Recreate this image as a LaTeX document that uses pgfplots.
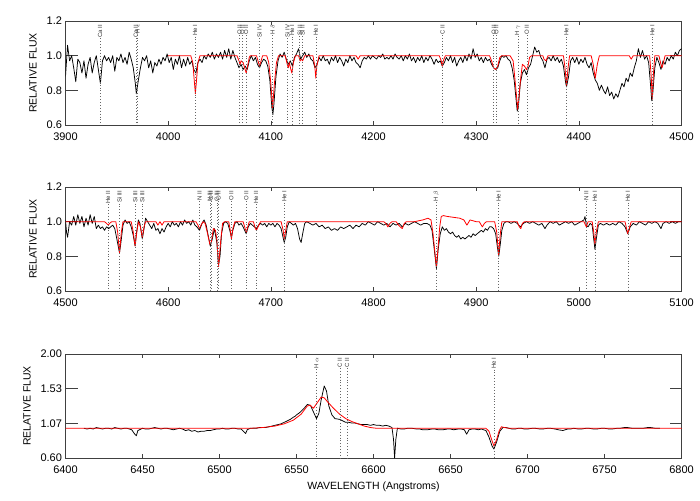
\documentclass[border=0pt]{standalone}
\usepackage{pgfplots}
\pgfplotsset{compat=1.18}
\usepackage{fontspec}
\setmainfont{Liberation Sans}
\definecolor{specred}{RGB}{255,0,0}
\newcommand{\lid}[4]{% lambda, ytop, ybottom, label
  \node[lidn] (lidnode) at (axis cs:#1,#2) {#4};
  \draw[lidl] (lidnode.west) -- (axis cs:#1,#3);}
\tikzset{
  lidn/.style={rotate=90, anchor=east, font=\fontsize{6}{7}\selectfont, inner sep=0.6pt, text=black!80},
  lidl/.style={line width=0.5pt, black!60, dash pattern=on 0.9pt off 2pt},
}
\begin{document}
\begin{tikzpicture}
\path[use as bounding box] (0pt,0pt) rectangle (700pt,500pt);
\pgfplotsset{
  spec/.style={scale only axis, width=616pt, height=104pt, anchor=south west,
    axis line style={line width=0.6pt, black!75},
    tick align=inside, major tick length=12pt, minor tick num=0,
    tick style={line width=0.6pt, black!75},
    xtick style={/pgfplots/major tick length=4pt},
    ticklabel style={font=\fontsize{11}{12}\selectfont},
    xticklabel style={yshift=-4pt},
    /pgf/number format/assume math mode=true,
    /pgf/number format/1000 sep={},
    ylabel={RELATIVE FLUX},
    ylabel style={font=\fontsize{10.5}{12}\selectfont, yshift=3pt},
    xlabel style={font=\fontsize{10.5}{12}\selectfont, yshift=-2pt},
  },
  blk/.style={black, line width=0.75pt, line join=round},
  rd/.style={specred, line width=0.8pt, line join=round},
}

% ---------------- Panel 1 ----------------
\begin{axis}[spec, at={(65.5pt,375pt)}, xmin=3900, xmax=4500, ymin=0.6, ymax=1.2,
  xtick={3900,4000,...,4500}, ytick={0.6,0.8,1.0,1.2},
  yticklabel style={/pgf/number format/fixed, /pgf/number format/precision=1, /pgf/number format/fixed zerofill}]
\addplot[blk] coordinates {
(3900,0.88)(3902,1.06)(3904,0.97)(3906,1.00)(3908,0.93)(3910,0.85)(3912,0.98)(3914,0.96)(3916,0.90)(3918,0.97)
(3920,0.87)(3922,0.95)(3924,0.99)(3926,0.90)(3928,0.96)(3930,1.00)(3932,0.92)(3934,0.84)(3936,0.97)(3938,1.00)
(3940,0.97)(3942,0.99)(3944,0.96)(3946,1.00)(3948,0.91)(3950,0.99)(3952,0.97)(3954,1.01)(3956,0.96)(3958,0.99)
(3960,0.95)(3962,1.02)(3964,0.98)(3966,0.93)(3968,0.84)(3969,0.78)(3971,0.86)(3973,0.93)(3975,0.99)(3977,0.97)
(3979,1.00)(3981,0.93)(3983,0.97)(3985,0.90)(3987,0.96)(3989,0.94)(3991,0.98)(3993,0.95)(3995,0.99)(3997,0.97)
(3999,1.01)(4001,0.96)(4003,0.99)(4005,0.92)(4007,0.98)(4009,0.95)(4011,1.00)(4013,0.93)(4015,0.98)(4017,0.94)
(4019,0.99)(4021,0.95)(4023,0.97)(4025,0.92)(4027,0.90)(4029,0.96)(4031,0.98)(4033,0.96)(4035,1.00)(4037,0.98)
(4039,1.01)(4041,0.99)(4043,1.02)(4045,0.98)(4047,1.01)(4049,0.99)(4051,1.02)(4053,0.98)(4055,1.03)(4057,0.99)
(4059,1.04)(4061,0.98)(4063,1.03)(4065,0.99)(4067,0.96)(4069,0.93)(4071,0.95)(4073,0.92)(4075,0.94)(4077,0.92)
(4079,0.97)(4081,1.00)(4083,0.97)(4085,0.99)(4087,0.95)(4089,0.93)(4091,0.96)(4093,0.98)(4095,0.97)(4097,0.94)
(4099,0.86)(4101,0.70)(4102,0.66)(4103,0.72)(4105,0.88)(4107,0.97)(4109,1.01)(4111,0.99)(4113,1.02)(4115,0.98)
(4117,0.95)(4119,0.97)(4121,0.94)(4123,0.99)(4125,1.01)(4127,1.04)(4129,0.98)(4131,1.00)(4133,1.02)(4135,0.99)
(4137,1.01)(4139,0.98)(4141,0.97)(4143,0.93)(4145,0.95)(4147,0.99)(4149,0.97)(4151,1.00)(4153,0.97)(4155,0.98)
(4157,0.95)(4159,0.99)(4161,0.97)(4163,1.00)(4165,0.96)(4167,0.99)(4169,0.97)(4171,0.94)(4173,0.98)(4175,0.96)
(4177,1.00)(4179,0.97)(4181,0.99)(4183,0.96)(4185,0.95)(4187,0.93)(4189,0.97)(4191,0.99)(4193,0.98)(4195,1.00)
(4197,0.98)(4199,1.00)(4201,0.99)(4203,0.98)(4205,1.00)(4207,0.99)(4209,1.01)(4211,0.98)(4213,0.99)(4215,0.98)
(4217,1.00)(4219,0.98)(4221,1.01)(4223,0.99)(4225,0.98)(4227,1.00)(4229,0.97)(4231,1.00)(4233,0.98)(4235,1.01)
(4237,0.97)(4239,0.99)(4241,0.96)(4243,0.99)(4245,0.97)(4247,1.00)(4249,0.96)(4251,0.99)(4253,0.97)(4255,1.00)
(4257,0.98)(4259,0.95)(4261,0.98)(4263,0.96)(4265,0.97)(4267,0.94)(4269,0.96)(4271,0.99)(4273,0.97)(4275,1.00)
(4277,0.96)(4279,0.99)(4281,0.94)(4283,0.97)(4285,0.99)(4287,0.96)(4289,1.00)(4291,0.97)(4293,1.01)(4295,0.98)
(4297,1.04)(4299,0.99)(4301,1.01)(4303,0.97)(4305,0.99)(4307,0.96)(4309,0.99)(4311,0.97)(4313,0.98)(4315,0.95)
(4317,0.93)(4319,0.92)(4321,0.93)(4323,0.97)(4325,1.00)(4327,0.99)(4329,1.00)(4331,0.98)(4333,0.97)(4335,0.93)
(4337,0.86)(4339,0.74)(4340,0.68)(4341,0.70)(4343,0.84)(4345,0.90)(4347,0.92)(4349,0.89)(4351,0.93)(4353,0.95)
(4355,1.00)(4357,1.05)(4359,1.02)(4361,1.03)(4363,0.99)(4365,0.97)(4367,0.93)(4369,0.98)(4371,0.99)(4373,0.97)
(4375,1.00)(4377,0.97)(4379,0.99)(4381,0.96)(4383,0.98)(4385,0.94)(4387,0.85)(4388,0.82)(4390,0.88)(4392,0.97)
(4394,0.99)(4396,0.96)(4398,0.99)(4400,0.95)(4402,0.98)(4404,0.96)(4406,0.99)(4408,0.95)(4410,0.93)(4412,0.96)
(4414,0.90)(4416,0.86)(4418,0.84)(4420,0.80)(4422,0.83)(4424,0.80)(4426,0.78)(4428,0.82)(4430,0.77)(4432,0.79)
(4434,0.75)(4436,0.78)(4438,0.76)(4440,0.80)(4442,0.84)(4444,0.82)(4446,0.87)(4448,0.85)(4450,0.90)(4452,0.88)
(4454,0.93)(4456,0.97)(4458,1.04)(4460,0.99)(4462,1.03)(4464,0.98)(4466,1.00)(4468,0.96)(4470,0.82)(4471,0.74)
(4472,0.78)(4474,0.93)(4476,0.99)(4478,0.96)(4480,0.92)(4482,0.97)(4484,0.95)(4486,0.99)(4488,0.97)(4490,1.00)
(4492,0.98)(4494,1.02)(4496,1.00)(4498,1.03)(4500,1.04)};
\addplot[rd] coordinates {
(4000,1.00)(4022,1.00)(4024,0.96)(4025.5,0.85)(4026.5,0.78)(4027.5,0.85)(4029,0.96)(4031,1.00)
(4067,1.00)(4069,0.97)(4070,0.95)(4071,0.97)(4073,0.96)(4075,0.92)(4076,0.90)(4077,0.93)(4079,0.99)(4080,1.00)
(4086,1.00)(4088,0.96)(4089,0.94)(4090,0.96)(4092,1.00)
(4096,1.00)(4098,0.96)(4100,0.84)(4101.7,0.70)(4103.5,0.84)(4105.5,0.96)(4107.5,1.00)
(4114,1.00)(4116,0.95)(4117,0.93)(4118,0.96)(4119.5,0.92)(4120.5,0.90)(4122,0.96)(4124,1.00)
(4127,1.00)(4128.5,0.97)(4130,0.98)(4131,0.97)(4133,1.00)
(4141,1.00)(4142.8,0.94)(4143.8,0.87)(4144.8,0.94)(4147,1.00)
(4183,1.00)(4185,0.98)(4187,1.00)
(4264,1.00)(4266,0.97)(4267,0.94)(4268,0.97)(4270,1.00)
(4313,1.00)(4315,0.97)(4317,0.93)(4319,0.92)(4321,0.94)(4323,0.99)(4325,1.00)
(4333,1.00)(4336,0.97)(4338,0.85)(4340.5,0.69)(4343,0.85)(4345,0.95)(4347,0.94)(4349,0.92)(4350.5,0.94)(4352,0.99)(4354,1.00)
(4365,1.00)(4366,0.98)(4368,0.97)(4370,1.00)
(4385,1.00)(4386.5,0.93)(4388,0.83)(4389.5,0.93)(4391,1.00)
(4412,1.00)(4414,0.95)(4416,0.87)(4418,0.95)(4420,1.00)
(4449,1.00)(4451,0.98)(4453,1.00)
(4469,1.00)(4470.5,0.88)(4471.5,0.75)(4472.5,0.88)(4474,1.00)
(4478,1.00)(4480,0.95)(4481,0.93)(4482,0.95)(4484,1.00)(4500,1.00)};
\lid{3933.7}{1.183}{0.6}{Ca II}
\lid{3968.5}{1.183}{0.6}{Ca II}
\lid{3970.1}{1.183}{0.6}{H $\epsilon$}
\lid{4026.2}{1.183}{0.6}{He I}
\lid{4069.6}{1.183}{0.6}{O II}
\lid{4072.2}{1.183}{0.6}{O II}
\lid{4075.9}{1.183}{0.6}{O II}
\lid{4088.9}{1.183}{0.6}{Si IV}
\lid{4101.7}{1.183}{0.6}{H $\delta$}
\lid{4116.1}{1.183}{0.6}{Si IV}
\lid{4120.8}{1.183}{0.6}{He I}
\lid{4128.1}{1.183}{0.6}{Si II}
\lid{4130.9}{1.183}{0.6}{Si II}
\lid{4143.8}{1.183}{0.6}{He I}
\lid{4267.2}{1.183}{0.6}{C II}
\lid{4317.1}{1.183}{0.6}{O II}
\lid{4319.6}{1.183}{0.6}{O II}
\lid{4340.5}{1.183}{0.6}{H $\gamma$}
\lid{4349.4}{1.183}{0.6}{O II}
\lid{4387.9}{1.183}{0.6}{He I}
\lid{4471.5}{1.183}{0.6}{He I}
\end{axis}

% ---------------- Panel 2 ----------------
\begin{axis}[spec, at={(65.5pt,209pt)}, xmin=4500, xmax=5100, ymin=0.6, ymax=1.2,
  xtick={4500,4600,...,5100}, ytick={0.6,0.8,1.0,1.2},
  yticklabel style={/pgf/number format/fixed, /pgf/number format/precision=1, /pgf/number format/fixed zerofill}]
\addplot[blk] coordinates {
(4500,1.01)(4501,0.94)(4502,0.91)(4504,1.00)(4506,0.98)(4508,1.03)(4510,0.98)(4512,1.04)(4514,0.99)(4516,1.03)
(4518,0.97)(4520,1.02)(4522,0.98)(4524,1.04)(4526,0.99)(4528,1.03)(4530,0.96)(4532,0.98)(4534,0.96)(4536,0.97)
(4538,0.95)(4540,0.97)(4542,0.96)(4544,0.97)(4546,0.98)(4548,0.96)(4550,0.90)(4552.6,0.82)(4554,0.88)(4556,0.98)
(4558,1.01)(4560,0.99)(4562,1.00)(4564,0.97)(4566,0.92)(4567.8,0.86)(4569,0.93)(4571,1.01)(4572.5,0.99)(4574.8,0.90)
(4576.5,0.96)(4578,1.02)(4580,1.00)(4582,0.98)(4584,0.96)(4586,0.99)(4588,0.95)(4590,0.96)(4592,0.93)(4594,0.96)
(4596,0.94)(4598,0.97)(4600,0.99)(4602,0.97)(4604,1.00)(4606,0.98)(4608,0.99)(4610,0.97)(4612,1.00)(4614,0.98)
(4616,1.01)(4618,0.99)(4620,1.00)(4622,0.98)(4624,1.01)(4626,0.98)(4628,0.97)(4630.5,0.95)(4633,0.99)(4635,1.01)
(4637,0.98)(4639,0.92)(4641,0.86)(4643,0.90)(4645,0.96)(4647.4,0.88)(4649,0.75)(4650.5,0.80)(4652,0.93)(4654,0.99)
(4656,1.00)(4658,0.99)(4660,0.95)(4661.6,0.91)(4663,0.95)(4665,0.99)(4667,1.00)(4669,0.98)(4671,0.99)(4673,0.97)
(4676,0.93)(4678,0.97)(4680,0.99)(4682,0.98)(4684,0.97)(4686,0.96)(4688,0.98)(4690,0.99)(4692,0.98)(4694,0.99)
(4696,0.97)(4698,0.99)(4700,0.98)(4702,0.99)(4704,0.97)(4706,0.99)(4708,0.98)(4710,0.96)(4711.5,0.92)(4713,0.88)
(4714.5,0.91)(4716,0.97)(4718,1.00)(4720,0.99)(4722,0.98)(4724,0.99)(4726,0.96)(4728,0.90)(4729.5,0.88)(4731,0.93)
(4733,0.99)(4735,1.00)(4738,0.99)(4741,0.98)(4744,0.99)(4747,0.97)(4750,0.98)(4753,0.96)(4756,0.97)(4759,0.95)
(4762,0.96)(4765,0.95)(4768,0.97)(4771,0.96)(4774,0.97)(4777,0.98)(4780,0.96)(4783,0.98)(4786,0.97)(4789,0.99)
(4792,0.98)(4795,1.00)(4798,0.99)(4801,0.98)(4804,1.00)(4807,0.99)(4810,0.98)(4813,0.99)(4816,0.97)(4819,0.99)
(4822,0.98)(4825,0.99)(4828,0.97)(4831,0.99)(4834,0.98)(4837,0.99)(4840,1.00)(4843,0.99)(4846,0.98)(4849,0.99)
(4852,0.99)(4855,0.98)(4857,0.95)(4859,0.85)(4861.3,0.73)(4863,0.84)(4865,0.93)(4867,0.97)(4869,0.95)(4871,0.96)
(4873,0.94)(4875,0.93)(4877,0.94)(4879,0.92)(4881,0.91)(4883,0.92)(4885,0.90)(4887,0.91)(4889,0.90)(4891,0.91)
(4893,0.92)(4895,0.91)(4897,0.93)(4899,0.92)(4901,0.93)(4903,0.94)(4905,0.95)(4907,0.94)(4909,0.96)(4911,0.95)
(4913,0.97)(4915,0.97)(4917,0.96)(4919,0.93)(4920.5,0.86)(4922,0.80)(4923.5,0.87)(4925,0.95)(4927,0.99)(4929,1.00)
(4931,1.00)(4934,0.99)(4937,1.00)(4940,0.99)(4943,0.97)(4946,0.99)(4949,1.00)(4952,0.99)(4955,1.00)(4958,0.99)
(4961,0.98)(4964,0.99)(4967,0.96)(4969,0.98)(4972,1.00)(4975,0.99)(4978,1.00)(4981,0.98)(4984,0.99)(4987,1.00)
(4990,0.99)(4993,1.00)(4996,0.98)(4999,0.99)(5002,1.00)(5005,1.01)(5006,1.03)(5007.3,0.98)(5009,0.97)(5011,0.99)
(5013,0.98)(5014.5,0.90)(5015.7,0.84)(5017,0.90)(5019,0.98)(5021,0.99)(5024,0.98)(5027,0.99)(5030,0.98)(5033,0.99)
(5036,0.98)(5039,1.00)(5042,0.99)(5045,0.97)(5047.7,0.93)(5050,0.97)(5053,0.99)(5056,0.98)(5059,1.00)(5062,0.99)
(5065,0.98)(5068,1.00)(5071,0.99)(5074,1.00)(5077,0.99)(5080,0.96)(5082,0.99)(5085,1.00)(5088,0.99)(5091,1.00)
(5094,0.99)(5097,1.00)(5100,1.00)};
\addplot[rd] coordinates {
(4500,1.00)(4538,1.00)(4540,0.99)(4541.6,0.98)(4543,0.99)(4545,1.00)
(4549,1.00)(4550.8,0.94)(4552.6,0.82)(4554.4,0.94)(4556,1.00)
(4564,1.00)(4566,0.94)(4567.8,0.86)(4569.5,0.94)(4571,1.00)(4573,0.97)(4574.8,0.91)(4576.5,0.97)(4578,1.00)
(4588,1.00)(4590,0.98)(4592,1.00)(4594,0.98)(4596,1.00)
(4627,1.00)(4629,0.98)(4630.5,0.96)(4632,0.98)(4634,1.00)(4636,0.99)(4638,0.94)(4640.6,0.87)(4642,0.88)(4644,0.96)
(4646,0.95)(4647.4,0.90)(4649.1,0.74)(4651,0.88)(4653,0.99)(4655,1.00)
(4659,1.00)(4660.5,0.95)(4661.6,0.90)(4663,0.96)(4665,1.00)
(4673,1.00)(4675,0.96)(4676.2,0.94)(4677.5,0.97)(4679,1.00)
(4683,1.00)(4685,0.96)(4686,0.95)(4687.5,0.97)(4690,1.00)
(4710,1.00)(4712,0.95)(4713.1,0.90)(4714.5,0.95)(4716,1.00)
(4810,1.00)(4812,0.99)(4814,0.97)(4816,0.99)(4818,1.00)
(4822,1.00)(4824.5,0.98)(4826,0.97)(4828,0.96)(4830,0.99)(4832,1.00)
(4840,1.00)(4848,1.01)(4853,1.02)(4856,1.01)(4858,0.93)(4859.5,0.84)(4861.3,0.74)(4863,0.86)(4864.5,0.97)
(4866,1.03)(4868,1.035)(4872,1.03)(4878,1.025)(4884,1.02)(4888,1.01)(4891,0.98)(4894,1.01)(4900,1.00)
(4903,1.00)(4906,0.97)(4908,0.99)(4910,1.00)
(4918,1.00)(4920,0.94)(4921.9,0.81)(4923.5,0.93)(4925,1.00)
(4940,1.00)(4942,0.97)(4943.5,0.96)(4945,0.99)(4947,1.00)
(5005,1.00)(5007.3,0.97)(5009,1.00)
(5013,1.00)(5014.5,0.94)(5015.7,0.87)(5017,0.94)(5019,1.00)
(5045,1.00)(5046.5,0.96)(5047.7,0.93)(5049,0.96)(5051,1.00)(5100,1.00)};
\lid{4541.6}{1.183}{0.6}{He II}
\lid{4552.6}{1.183}{0.6}{Si III}
\lid{4567.8}{1.183}{0.6}{Si III}
\lid{4574.8}{1.183}{0.6}{Si III}
\lid{4630.5}{1.183}{0.6}{N II}
\lid{4640.6}{1.183}{0.6}{N III}
\lid{4641.8}{1.183}{0.6}{O II}
\lid{4647.4}{1.183}{0.6}{C III}
\lid{4649.1}{1.183}{0.6}{O II}
\lid{4661.6}{1.183}{0.6}{O II}
\lid{4676.2}{1.183}{0.6}{O II}
\lid{4685.7}{1.183}{0.6}{He II}
\lid{4713.1}{1.183}{0.6}{He I}
\lid{4861.3}{1.183}{0.6}{H $\beta$}
\lid{4921.9}{1.183}{0.6}{He I}
\lid{5007.3}{1.183}{0.6}{N II}
\lid{5015.7}{1.183}{0.6}{He I}
\lid{5047.7}{1.183}{0.6}{He I}
\end{axis}

% ---------------- Panel 3 ----------------
\begin{axis}[spec, at={(65.5pt,42pt)}, xmin=6400, xmax=6800, ymin=0.6, ymax=2.0,
  xtick={6400,6450,...,6800}, ytick={0.6,1.0667,1.5333,2.0},
  yticklabels={0.60,1.07,1.53,2.00},
  xlabel={WAVELENGTH (Angstroms)}]
\addplot[blk] coordinates {
(6412,1.00)(6414,0.99)(6416,1.00)(6418,0.99)(6420,1.01)(6422,1.00)(6424,0.99)(6426,1.00)(6428,1.00)(6430,0.99)
(6432,1.01)(6434,1.00)(6436,0.99)(6438,1.00)(6440,1.00)(6443,0.98)(6445,0.92)(6446,0.90)(6447,0.97)(6450,1.00)
(6452,0.99)(6454,0.99)(6456,1.00)(6458,1.01)(6460,1.00)(6462,0.99)(6464,1.00)(6466,1.00)(6468,0.99)(6470,0.98)
(6472,0.99)(6474,1.00)(6476,0.99)(6478,0.97)(6480,0.98)(6482,0.96)(6484,0.97)(6486,0.95)(6488,0.96)(6490,0.96)
(6492,0.97)(6494,0.97)(6496,0.98)(6498,0.99)(6500,0.99)(6502,1.00)(6504,0.99)(6506,0.99)(6508,1.00)(6510,1.00)
(6512,0.99)(6514,0.99)(6516,0.95)(6517,0.93)(6518,0.98)(6520,1.00)(6522,1.00)(6524,1.00)(6526,1.01)(6528,1.01)
(6530,1.01)(6532,1.02)(6534,1.03)(6536,1.04)(6538,1.05)(6540,1.06)(6542,1.08)(6544,1.10)(6546,1.12)(6548,1.15)
(6549,1.16)(6550,1.18)(6552,1.21)(6554,1.25)(6555,1.27)(6557,1.32)(6559,1.31)(6561,1.22)(6563,1.13)(6564.5,1.20)
(6566,1.38)(6568,1.57)(6569.5,1.50)(6571,1.30)(6573,1.18)(6575,1.13)(6578,1.12)(6580,1.10)(6582,1.08)(6584,1.08)
(6586,1.07)(6588,1.07)(6590,1.06)(6592,1.05)(6594,1.05)(6596,1.05)(6598,1.04)(6600,1.05)(6602,1.04)(6604,1.04)
(6606,1.03)(6608,1.04)(6610,1.03)(6612,1.01)(6613,0.85)(6613.7,0.60)(6614.5,0.85)(6615.5,1.00)(6618,0.99)(6620,0.99)
(6622,1.00)(6625,1.00)(6628,0.99)(6630,0.99)(6632,0.98)(6635,0.98)(6638,0.99)(6640,0.99)(6642,0.98)(6645,0.98)
(6648,0.99)(6650,0.99)(6652,0.98)(6655,0.99)(6657,0.99)(6659,0.98)(6660.5,0.92)(6662,0.98)(6664,0.99)(6666,0.99)
(6668,0.98)(6670,0.99)(6673,0.97)(6675,0.88)(6677,0.76)(6678.2,0.72)(6680,0.82)(6682,0.96)(6684,1.01)(6686,1.01)
(6688,1.00)(6690,0.99)(6692,0.99)(6694,1.00)(6696,1.00)(6698,0.99)(6700,0.99)(6703,1.00)(6705,1.00)(6708,0.99)
(6710,0.99)(6713,1.00)(6715,1.00)(6718,0.99)(6720,0.98)(6723,0.97)(6726,0.99)(6728,0.99)(6730,1.00)(6733,0.99)
(6735,0.99)(6738,1.00)(6740,1.00)(6743,0.99)(6745,0.99)(6748,1.00)(6750,1.00)(6753,0.99)(6755,0.99)(6758,1.00)
(6760,1.00)(6763,1.01)(6765,1.01)(6768,1.00)(6770,1.00)(6773,1.00)(6775,1.00)(6778,1.01)(6780,1.01)(6783,1.00)
(6786,1.00)};
\addplot[rd] coordinates {
(6400,1.00)(6520,1.00)(6528,1.01)(6536,1.03)(6542,1.06)(6548,1.11)(6553,1.19)(6557,1.30)(6559,1.31)(6561,1.27)
(6563,1.33)(6566,1.42)(6568,1.41)(6570,1.36)(6574,1.27)(6578,1.19)(6582,1.13)(6586,1.09)(6590,1.06)(6594,1.03)
(6598,1.01)(6602,1.00)(6673,1.00)(6675,0.96)(6676.5,0.86)(6678.2,0.76)(6680,0.85)(6681.5,0.96)(6683,1.02)
(6685,1.01)(6688,1.00)(6800,1.00)};
\lid{6562.8}{1.96}{0.6}{H $\alpha$}
\lid{6578.1}{1.96}{0.6}{C II}
\lid{6582.9}{1.96}{0.6}{C II}
\lid{6678.2}{1.96}{0.6}{He I}
\end{axis}
\end{tikzpicture}
\end{document}
